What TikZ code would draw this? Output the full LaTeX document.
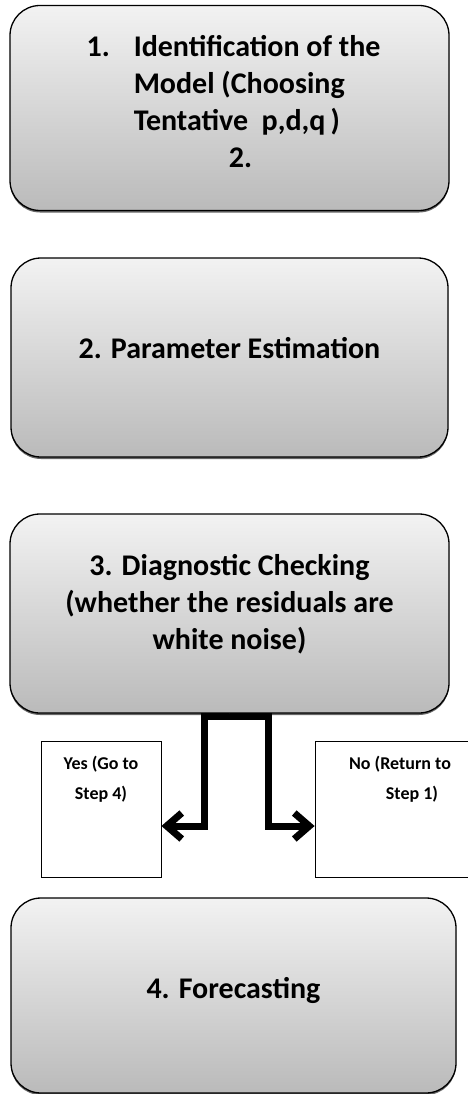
\documentclass[tikz,border=0pt]{standalone}
\usepackage{fontspec}
\setmainfont{Carlito}
\usetikzlibrary{arrows.meta,calc,positioning,shadows}
\tikzset {
  >={Straight Barb[length=15pt,width=26pt]},
  every node/.style={font=\bfseries},
  stage/.style={draw,line width=1.3pt,rounded corners=30pt,
    top color=black!5,bottom color=black!27,
    drop shadow={shadow xshift=0pt,shadow yshift=-2pt,fill=black!60,opacity=1},
    align=center,inner sep=0pt,font=\bfseries\fontsize{30}{37}\selectfont},
  answer/.style={draw,line width=0.8pt,fill=white,inner sep=0pt,
    font=\bfseries\fontsize{18}{30}\selectfont},
  link/.style={line width=7pt,->},
}
\newcommand{\lift}[2]{\raisebox{#1}[\height][\depth]{#2}}

\begin{document}
\begin{tikzpicture}[x=1pt,y=1pt]
  \useasboundingbox (0,0) rectangle (468,-1094);

  \node[stage,minimum width=439pt,minimum height=205pt] (ident) at (229.5,-108)
    {\lift{3pt}{\hspace{8pt}\begin{tabular}{@{}l@{\hspace{24pt}}l@{}}
       1. & Identification of the\\
          & Model (Choosing\\
          & Tentative\ \ p,d,q\,)\\
       \multicolumn{2}{c}{\hspace{14pt}2.}
     \end{tabular}}};
  \node[stage,minimum width=437pt,minimum height=199pt] (estim) at (229.5,-357.5)
    {\lift{9pt}{2. Parameter Estimation}};
  \node[stage,minimum width=439pt,minimum height=199pt] (diag) at (229.5,-613.5)
    {\lift{8pt}{\begin{tabular}{@{}c@{}}3. Diagnostic Checking\\(whether the residuals are\\white noise)\end{tabular}}};
  \node[stage,minimum width=445pt,minimum height=195pt] (fcast) at (233.5,-995.5)
    {\lift{5pt}{4. Forecasting}};

  \node[answer,minimum width=120pt,minimum height=136pt] (yes) at (101,-809)
    {\parbox[t][136pt][t]{120pt}{\centering\vspace*{15pt}Yes (Go to\\Step 4)}};
  \node[answer,minimum width=170pt,minimum height=136pt] (no) at (400,-809)
    {\parbox[t][136pt][t]{170pt}{\centering\vspace*{15pt}No (Return to\\\hspace{24pt}Step 1)}};

  \coordinate (yesbend) at (204,-826);
  \coordinate (nobend) at (268,-826);
  \draw[link] (diag.south) -- ++(0,-3) -| (yesbend) -- (yesbend -| yes.east);
  \draw[link] (diag.south) -- ++(0,-3) -| (nobend) -- (nobend -| no.west);
\end{tikzpicture}
\end{document}
